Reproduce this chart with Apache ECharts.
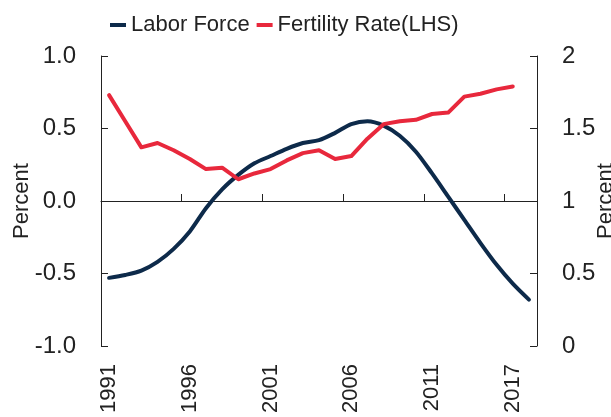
<!DOCTYPE html>
<html>
<head>
<meta charset="utf-8">
<script src="https://cdn.jsdelivr.net/npm/echarts@6/dist/echarts.min.js"></script>
<style>
  html, body {margin: 0; padding: 0; background: #fff;}
  #chart {width: 611px; height: 417px;}
</style>
</head>
<body>
<div id="chart"></div>
<script>
// years on the category axis (the chart's own labels: 2017 sits where 2016 would be)
var years = ['1991', '1992', '1993', '1994', '1995', '1996', '1997', '1998', '1999', '2000',
  '2001', '2002', '2003', '2004', '2005', '2006', '2007', '2008', '2009', '2010',
  '2011', '2012', '2013', '2014', '2015', '2017', '2018']

// labor force growth, percent (left axis)
var laborForce = [-0.53, -0.51, -0.48, -0.42, -0.33, -0.21, -0.05, 0.08, 0.18, 0.26,
  0.31, 0.36, 0.40, 0.42, 0.47, 0.53, 0.55, 0.52, 0.45, 0.34,
  0.19, 0.03, -0.13, -0.29, -0.44, -0.57, -0.68]

// fertility rate (right axis)
var fertility = [1.73, 1.55, 1.37, 1.40, 1.35, 1.29, 1.22, 1.23, 1.15, 1.19,
  1.22, 1.28, 1.33, 1.35, 1.29, 1.31, 1.43, 1.53, 1.55, 1.56,
  1.60, 1.61, 1.72, 1.74, 1.77, 1.79, null]

var font = 'Liberation Sans, Arial, sans-serif'
var axisColor = '#222'

var chart = echarts.init(document.getElementById('chart'))

chart.setOption({
  animation: false,
  color: ['#0d2a4a', '#e8283c'],
  textStyle: {fontFamily: font},
  legend: {
    left: 105,
    top: 9,
    itemWidth: 16,
    itemHeight: 4,
    itemGap: 7,
    icon: 'rect',
    textStyle: {fontSize: 22, color: '#222', fontFamily: font},
    data: ['Labor Force', 'Fertility Rate(LHS)']
  },
  grid: {
    left: 101,
    right: 74,
    top: 56,
    bottom: 71,
    outerBoundsMode: 'none'
  },
  xAxis: [
    {
      type: 'category',
      data: years,
      position: 'bottom',
      axisLine: {onZero: true, onZeroAxisIndex: 0, lineStyle: {color: axisColor, width: 1}},
      axisTick: {show: true, inside: true, length: 7, interval: 4, lineStyle: {color: axisColor}},
      axisLabel: {show: false},
      splitLine: {show: false}
    },
    {
      type: 'category',
      data: years,
      position: 'bottom',
      axisLine: {show: false, onZero: false},
      axisTick: {show: false},
      axisLabel: {
        interval: 4,
        rotate: 90,
        margin: 18,
        fontSize: 22,
        color: '#222',
        fontFamily: font
      },
      splitLine: {show: false}
    }
  ],
  yAxis: [
    {
      type: 'value',
      min: -1,
      max: 1,
      interval: 0.5,
      name: 'Percent',
      nameLocation: 'middle',
      nameGap: 68,
      nameMoveOverlap: false,
      nameTextStyle: {fontSize: 22, color: '#222', fontFamily: font},
      axisLine: {show: true, lineStyle: {color: axisColor}},
      axisTick: {show: true, inside: true, length: 7, lineStyle: {color: axisColor}},
      axisLabel: {
        margin: 25,
        fontSize: 24,
        color: '#222',
        fontFamily: font,
        formatter: function (v) { return v.toFixed(1) }
      },
      splitLine: {show: false}
    },
    {
      type: 'value',
      position: 'right',
      min: 0,
      max: 2,
      interval: 0.5,
      name: 'Percent',
      nameLocation: 'middle',
      nameGap: 58,
      nameMoveOverlap: false,
      nameTextStyle: {fontSize: 22, color: '#222', fontFamily: font},
      axisLine: {show: true, lineStyle: {color: axisColor}},
      axisTick: {show: true, inside: true, length: 7, lineStyle: {color: axisColor}},
      axisLabel: {
        margin: 25,
        fontSize: 24,
        color: '#222',
        fontFamily: font
      },
      splitLine: {show: false}
    }
  ],
  series: [
    {
      name: 'Labor Force',
      type: 'line',
      xAxisIndex: 0,
      yAxisIndex: 0,
      data: laborForce,
      smooth: 0.3,
      showSymbol: false,
      lineStyle: {width: 4, cap: 'round'}
    },
    {
      name: 'Fertility Rate(LHS)',
      type: 'line',
      xAxisIndex: 0,
      yAxisIndex: 1,
      data: fertility,
      showSymbol: false,
      lineStyle: {width: 4, cap: 'round', join: 'round'}
    }
  ]
})
</script>
</body>
</html>
